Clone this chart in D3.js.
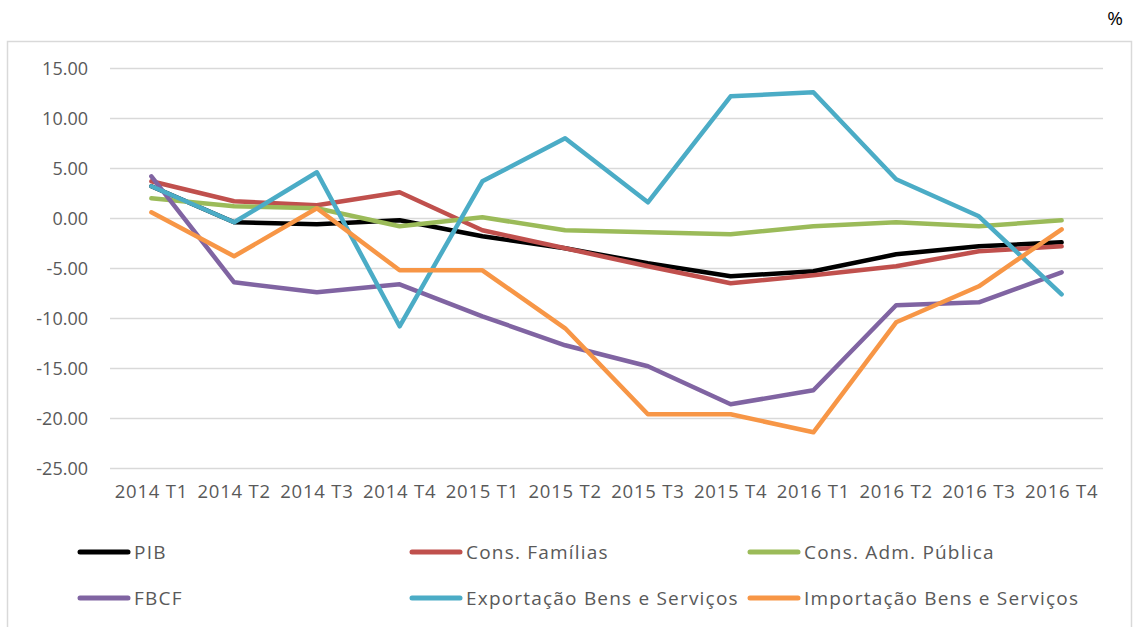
<!DOCTYPE html>
<html>
<head>
<meta charset="utf-8">
<script src="https://cdn.jsdelivr.net/npm/d3@7"></script>
<style>
  html, body { margin: 0; padding: 0; background: #fff; }
  svg { display: block; }
  text { font-family: "Open Sans", Lato, sans-serif; }
</style>
</head>
<body>
<svg id="chart" width="1136" height="627"></svg>
<script>
const categories = ["2014 T1","2014 T2","2014 T3","2014 T4","2015 T1","2015 T2","2015 T3","2015 T4","2016 T1","2016 T2","2016 T3","2016 T4"];
const yTicks = [15, 10, 5, 0, -5, -10, -15, -20, -25];

const pib        = [3.2, -0.4, -0.6, -0.2, -1.8, -3.0, -4.5, -5.8, -5.3, -3.6, -2.8, -2.4];
const consFam    = [3.7,  1.7,  1.3,  2.6, -1.2, -3.0, -4.8, -6.5, -5.7, -4.8, -3.3, -2.8];
const consAdm    = [2.0,  1.2,  1.0, -0.8,  0.1, -1.2, -1.4, -1.6, -0.8, -0.4, -0.8, -0.2];
const fbcf       = [4.2, -6.4, -7.4, -6.6, -9.8,-12.7,-14.8,-18.6,-17.2, -8.7, -8.4, -5.4];
const exportacao = [3.2, -0.4,  4.6,-10.8,  3.7,  8.0,  1.6, 12.2, 12.6,  3.9,  0.2, -7.6];
const importacao = [0.6, -3.8,  1.0, -5.2, -5.2,-11.0,-19.6,-19.6,-21.4,-10.4, -6.8, -1.1];

const seriesNames = ["PIB","Cons. Famílias","Cons. Adm. Pública","FBCF","Exportação Bens e Serviços","Importação Bens e Serviços"];
const seriesColors = ["#000000","#C0504D","#9BBB59","#8064A2","#4BACC6","#F79646"];
const seriesValues = [pib, consFam, consAdm, fbcf, exportacao, importacao];

const svg = d3.select("#chart");

// outer chart border
svg.append("rect")
  .attr("x", 7.5).attr("y", 41.5).attr("width", 1124).attr("height", 640)
  .attr("fill", "none").attr("stroke", "#D9D9D9").attr("stroke-width", 1.5);

// unit label
svg.append("text").attr("x", 1115).attr("y", 25)
  .attr("text-anchor", "middle").attr("font-size", 19).attr("fill", "#000")
  .text("%");

const x = d3.scaleBand().domain(categories).range([110, 1103]);
const y = d3.scaleLinear().domain([-25, 15]).range([468.3, 68.3]);

// gridlines
svg.append("g").selectAll("line").data(yTicks).join("line")
  .attr("x1", 110).attr("x2", 1103)
  .attr("y1", d => Math.round(y(d)) + 0.5).attr("y2", d => Math.round(y(d)) + 0.5)
  .attr("stroke", "#D9D9D9").attr("stroke-width", 1.5);

// y axis labels (hyphen-minus as in the reference)
const fmt = d3.format(".2f");
const yAxis = d3.axisLeft(y).tickValues(yTicks)
  .tickFormat(d => fmt(d).replace("\u2212", "-")).tickSize(0).tickPadding(0);
const gy = svg.append("g").attr("transform", "translate(88,0)").call(yAxis);
gy.select(".domain").remove();
gy.selectAll("text").attr("font-size", 18).attr("fill", "#595959")
  .attr("font-family", "'Open Sans', Lato, sans-serif");

// x axis labels
const xAxis = d3.axisBottom(x).tickSize(0).tickPadding(0);
const gx = svg.append("g").attr("transform", "translate(0,485)").call(xAxis);
gx.select(".domain").remove();
gx.selectAll("text").attr("font-size", 18.5).attr("fill", "#595959")
  .attr("letter-spacing", 0.8)
  .attr("font-family", "'Open Sans', Lato, sans-serif");

// lines
const line = d3.line()
  .x((d, i) => x(categories[i]) + x.bandwidth() / 2)
  .y(d => y(d));

seriesValues.forEach((vals, k) => {
  svg.append("path")
    .datum(vals)
    .attr("d", line)
    .attr("fill", "none")
    .attr("stroke", seriesColors[k])
    .attr("stroke-width", 4.5)
    .attr("stroke-linejoin", "round")
    .attr("stroke-linecap", "round");
});

// legend
const legendCols = [80, 412, 750];
const legendRows = [552, 598];
seriesNames.forEach((name, k) => {
  const lx = legendCols[k % 3];
  const ly = legendRows[Math.floor(k / 3)];
  const g = svg.append("g");
  g.append("line").attr("x1", lx).attr("x2", lx + 48).attr("y1", ly).attr("y2", ly)
    .attr("stroke", seriesColors[k]).attr("stroke-width", 5).attr("stroke-linecap", "round");
  g.append("text").attr("x", lx + 54).attr("y", ly).attr("dy", "0.35em")
    .attr("font-size", 19).attr("letter-spacing", 1.2)
    .attr("fill", "#595959").text(name);
});
</script>
</body>
</html>
